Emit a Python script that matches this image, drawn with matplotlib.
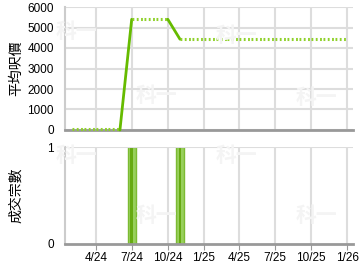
import numpy as np
import pandas as pd
import matplotlib
matplotlib.use('Agg')
import matplotlib.pyplot as plt

plt.rcParams['font.family'] = ['Liberation Sans', 'Noto Sans CJK TC']

# data
months = pd.date_range('2024-02-01', '2026-01-01', freq='MS')
price = [0, 0, 0, 0, 0,
         5400, 5400, 5400, 5400,
         4430, 4430, 4430, 4430, 4430, 4430, 4430, 4430,
         4430, 4430, 4430, 4430, 4430, 4430, 4430]
deal_months = pd.to_datetime(['2024-07-01', '2024-11-01'])
deals = [1, 1]

tick_dates = pd.to_datetime(['2024-04-01', '2024-07-01', '2024-10-01', '2025-01-01',
                             '2025-04-01', '2025-07-01', '2025-10-01', '2026-01-01'])
tick_labels = ['4/24', '7/24', '10/24', '1/25', '4/25', '7/25', '10/25', '1/26']
xmin, xmax = pd.Timestamp('2024-01-13'), pd.Timestamp('2026-01-16')

fig = plt.figure(figsize=(3.6, 2.7), dpi=100)
ax1 = fig.add_axes([65/360, 1-130/270, 288/360, 123/270])
ax2 = fig.add_axes([65/360, 1-244/270, 288/360, 97/270])

# watermark
for (px, py) in [(76, 32), (156, 95), (236, 36), (316, 97),
                 (76, 156), (156, 215), (236, 156), (316, 215)]:
    fig.text(px/360, 1-py/270, '科一', fontsize=15, fontweight='bold',
             color='#f4f4f4', ha='center', va='center', zorder=0,
             family=['Noto Sans CJK TC'])

for ax in (ax1, ax2):
    ax.set_facecolor('none')
    ax.set_xlim(xmin, xmax)
    ax.set_xticks(tick_dates)
    ax.grid(True, color='#dddddd', linewidth=1.5)
    ax.set_axisbelow(True)
    for s in ['top', 'right']:
        ax.spines[s].set_visible(False)
    ax.spines['left'].set_color('#cccccc')
    ax.spines['left'].set_linewidth(1.5)
    ax.spines['bottom'].set_color('#999999')
    ax.spines['bottom'].set_linewidth(2)
    ax.tick_params(axis='y', length=0, labelsize=8.5, pad=8)

# price line: solid where value changes, dotted otherwise
for i in range(len(months) - 1):
    xs = [months[i], months[i+1]]
    ys = [price[i], price[i+1]]
    if price[i] != price[i+1]:
        ax1.plot(xs, ys, color='#66bb00', linewidth=2, solid_capstyle='round',
                 zorder=4, clip_on=False)
    else:
        off = 60 if price[i] == 0 else 0
        ax1.plot(xs, [y + off for y in ys], color='#8fd12a', linewidth=2.2,
                 linestyle=(0, (0.6, 0.8)), zorder=4, clip_on=False)

ax1.set_ylim(0, 6000)
ax1.set_yticks(np.arange(0, 6001, 1000))
ax1.tick_params(axis='x', labelbottom=False, length=0)
ax1.set_ylabel('平均呎價', fontsize=10)
ax1.yaxis.set_label_coords(-42/288, 0.5)

# deals
ax2.bar(deal_months, deals, width=21, color='#98d05c', edgecolor='#7cbb33', linewidth=1)
ax2.bar(deal_months, deals, width=7, color='#66aa11', linewidth=0)
ax2.set_ylim(0, 1)
ax2.set_yticks([0, 1])
ax2.grid(False, axis='y')
ax2.axhline(1, color='#dddddd', linewidth=1.5)
ax2.set_xticklabels(tick_labels)
ax2.tick_params(axis='x', labelsize=8.5, length=4, color='#999999', pad=2)
ax2.set_ylabel('成交宗數', fontsize=10)
ax2.yaxis.set_label_coords(-42/288, 0.5)

fig.savefig('out.png', dpi=100)
